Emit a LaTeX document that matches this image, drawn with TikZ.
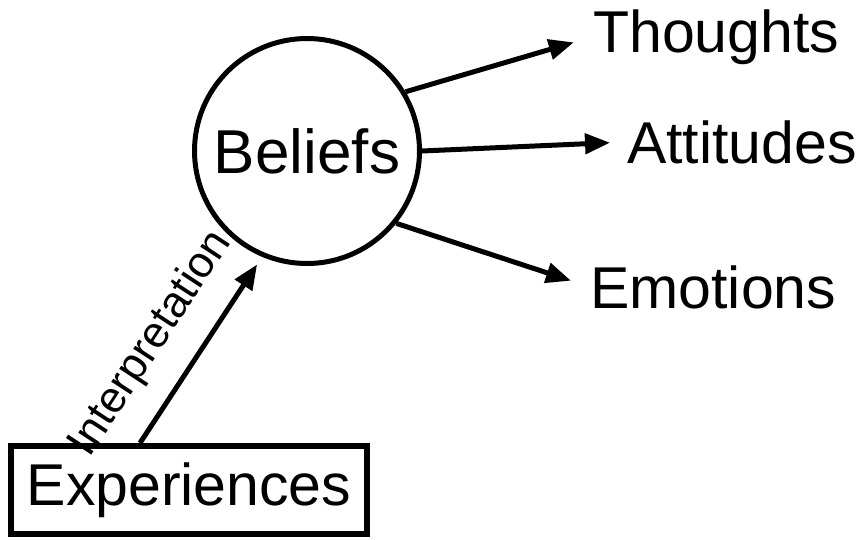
\documentclass[tikz,border=0pt]{standalone}
\usepackage{fontspec}
\setmainfont{Liberation Sans}
\usetikzlibrary{arrows.meta, positioning, calc}

\begin{document}
\begin{tikzpicture}[x=1pt, y=-1pt,
        big/.style={font=\fontsize{59}{61}\selectfont, inner sep=0pt},
        arr/.style={line width=5pt, -{Triangle[length=25pt, width=20pt]}}]
        \useasboundingbox (0,0) rectangle (861,539);
        % Beliefs in the middle, experiences feed in from below
        \node[draw, circle, line width=5pt, minimum size=225pt, big, font=\fontsize{62}{64}\selectfont] (beliefs) at (307,151) {Beliefs};
        \node[draw, rectangle, line width=6pt, minimum width=356pt, minimum height=88pt, big] (exp) at (189,490) {Experiences};
        \node[big, anchor=base west] (thoughts) at (593,52) {Thoughts};
        \node[big, anchor=base west] (attitudes) at (627,163) {Attitudes};
        \node[big, anchor=base west] (emotions) at (590,308) {Emotions};
        
        \draw[arr, shorten >=9pt] ([xshift=-49pt]exp.north) -- node[sloped, above=22pt, pos=0.40, inner sep=0pt, font=\fontsize{44}{46}\selectfont] {Interpretation} (beliefs.247);
        \draw[arr, shorten >=20pt] (beliefs.31) -- (thoughts.west);
        \draw[arr, shorten >=17pt] (beliefs.0) -- (attitudes.west);
        \draw[arr, shorten >=20pt] (beliefs.-39) -- (emotions.west);
    \end{tikzpicture}
\end{document}
